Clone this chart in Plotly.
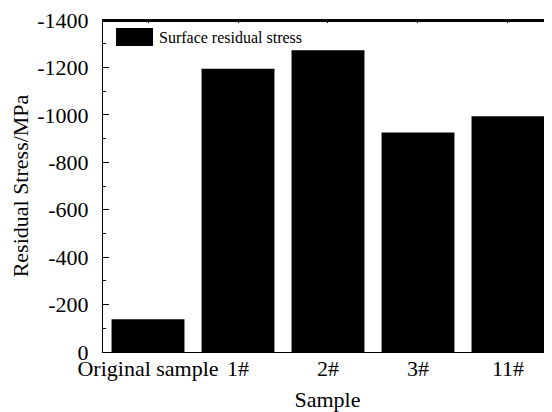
import plotly.graph_objects as go

categories = ["Original sample", "1#", "2#", "3#", "11#"]
stress_values = [-138, -1194, -1272, -926, -994]
y_tick_values = [0, -200, -400, -600, -800, -1000, -1200, -1400]
y_tick_labels = ["0", "-200", "-400", "-600", "-800", "-1000", "-1200", "-1400"]
series_name = "Surface residual stress"

FONT = "Liberation Serif"

fig = go.Figure()
fig.add_trace(go.Bar(
    x=categories, y=stress_values, name=series_name,
    marker=dict(color="black", line=dict(width=0)),
    width=0.81, showlegend=False,
))

# page body has an 8px default margin: figure sized so it fits the 552x412 window
fig.update_layout(
    width=544, height=404,
    margin=dict(l=95, r=0, t=12, b=60, autoexpand=False),
    paper_bgcolor="white", plot_bgcolor="white",
    font=dict(family=FONT, size=22, color="black"),
    xaxis=dict(
        type="category", range=[-0.5, 4.489], automargin=False,
        showline=True, linecolor="black", linewidth=1, mirror="ticks",
        ticks="inside", ticklen=3, tickcolor="black",
        showgrid=False, zeroline=False,
        ticklabelstandoff=-3, ticklabeloverflow="allow",
        title=dict(text="Sample", font=dict(family=FONT, size=22), standoff=11),
        tickfont=dict(family=FONT, size=22),
    ),
    yaxis=dict(
        range=[0, -1400], showline=True, linecolor="black", linewidth=1, automargin=False,
        ticks="inside", ticklen=6, tickcolor="black",
        tickvals=y_tick_values, ticktext=y_tick_labels,
        minor=dict(ticks="inside", ticklen=3, dtick=100, tick0=0, tickcolor="black", showgrid=False),
        showgrid=False, zeroline=False,
        ticklabelstandoff=9, ticklabeloverflow="allow",
        title=dict(text="Residual Stress/MPa", font=dict(family=FONT, size=22), standoff=8),
        tickfont=dict(family=FONT, size=22),
    ),
)

# top frame line of the plot box, drawn as a thin filled strip
fig.add_shape(type="rect", xref="paper", yref="paper", x0=0, x1=1, y0=0.994, y1=1.0,
              fillcolor="black", line=dict(width=0), layer="above")

# legend box drawn manually (Origin style wide swatch)
fig.add_shape(type="rect", xref="paper", yref="paper",
              x0=0.029, x1=0.1114, y0=0.9217, y1=0.976,
              fillcolor="black", line=dict(width=0))
fig.add_annotation(text=series_name, xref="paper", yref="paper",
                   x=0.1203, y=0.9458, xanchor="left", yanchor="middle",
                   showarrow=False, font=dict(family=FONT, size=16, color="black"))

fig.write_html("out.html", config={"displayModeBar": False})
